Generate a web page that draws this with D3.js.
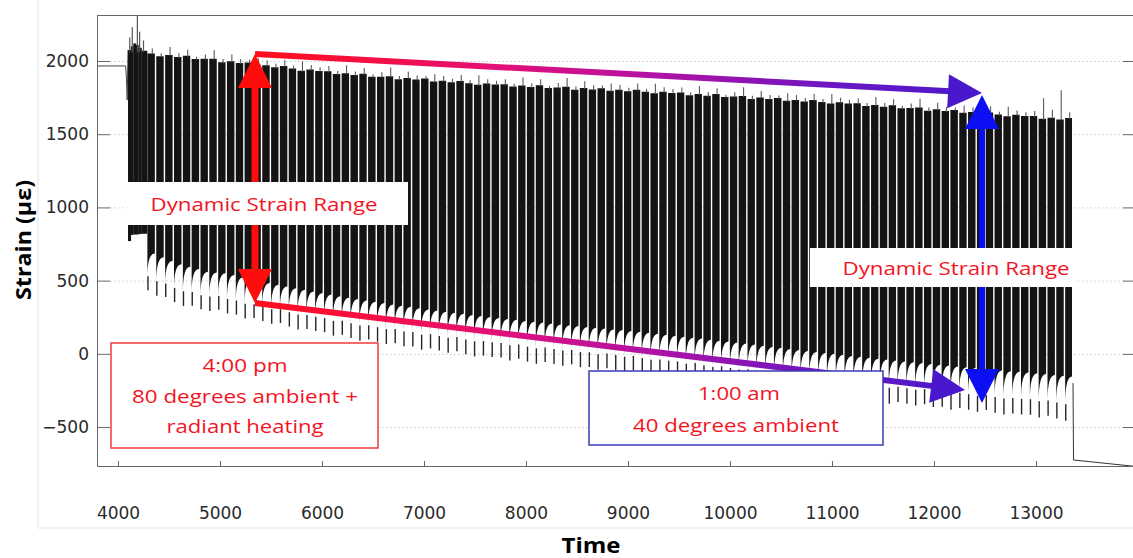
<!DOCTYPE html>
<html>
<head>
<meta charset="utf-8">
<title>Strain vs Time</title>
<script src="https://d3js.org/d3.v7.min.js"></script>
<style>
  body { margin: 0; background: #ffffff; }
  svg { display: block; }
</style>
</head>
<body>
<div id="mioGrafico"></div>
<script>

// tick labels
var xTicks = [4000, 5000, 6000, 7000, 8000, 9000, 10000, 11000, 12000, 13000];
var yTicks = [-500, 0, 500, 1000, 1500, 2000];

// flat signal before the loading starts, [time, strain]
var preLine = [[3794, 1966], [4075, 1966], [4082, 1890], [4090, 1733], [4098, 2075]];

// first partial block (segment start, top, bottom) and its tall peaks
var leadT  = [4098, 4125, 4150, 4175, 4200, 4230];
var leadHi = [2075, 2100, 2120, 2110, 2090, 2070];
var leadLo = [770, 812, 815, 815, 818, 820];
var leadPeaks = [[4115, 2160], [4140, 2230], [4190, 2314], [4212, 2200], [4250, 2140]];

// loading cycles: start time, top of the dense band, highest peak, band bottom, lowest dip
var cycleT = [4284, 4371, 4458, 4545, 4632, 4718, 4805, 4891, 4978, 5064,
  5151, 5237, 5324, 5410, 5497, 5583, 5670, 5756, 5843, 5929,
  6016, 6102, 6189, 6275, 6362, 6448, 6535, 6621, 6708, 6794,
  6881, 6967, 7054, 7140, 7227, 7313, 7400, 7486, 7573, 7659,
  7746, 7832, 7919, 8005, 8092, 8178, 8265, 8351, 8438, 8524,
  8611, 8697, 8784, 8870, 8957, 9043, 9130, 9216, 9303, 9389,
  9476, 9562, 9649, 9735, 9822, 9908, 9995, 10081, 10168, 10254,
  10341, 10427, 10514, 10600, 10687, 10773, 10860, 10946, 11033, 11119,
  11206, 11292, 11379, 11465, 11552, 11638, 11725, 11811, 11898, 11984,
  12071, 12157, 12244, 12330, 12417, 12503, 12590, 12676, 12763, 12849,
  12936, 13022, 13109, 13195, 13282];

var cycleHi = [2051, 2033, 2040, 2028, 2036, 2014, 2015, 2015, 1992, 1999,
  1986, 1990, 1969, 1971, 1958, 1965, 1948, 1934, 1942, 1931,
  1930, 1911, 1916, 1904, 1912, 1892, 1893, 1896, 1875, 1884,
  1873, 1880, 1860, 1865, 1854, 1863, 1848, 1837, 1846, 1839,
  1841, 1825, 1833, 1823, 1835, 1816, 1819, 1824, 1804, 1816,
  1806, 1814, 1797, 1803, 1794, 1804, 1790, 1779, 1790, 1782,
  1784, 1766, 1774, 1763, 1774, 1754, 1757, 1760, 1740, 1750,
  1740, 1747, 1729, 1734, 1724, 1734, 1720, 1709, 1719, 1710,
  1711, 1693, 1699, 1688, 1698, 1677, 1679, 1682, 1660, 1670,
  1659, 1665, 1646, 1651, 1639, 1649, 1634, 1622, 1632, 1624,
  1624, 1606, 1612, 1601, 1610];

var cyclePk = [2086, 2053, 2095, 2053, 2076, 2029, 2045, 2075, 2014, 2044,
  2014, 2008, 2019, 2004, 1982, 2007, 1968, 1999, 1972, 1957,
  1965, 1931, 1971, 1929, 1952, 1907, 1923, 1956, 1897, 1929,
  1901, 1898, 1910, 1898, 1878, 1905, 1868, 1902, 1876, 1865,
  1876, 1845, 1888, 1848, 1875, 1831, 1849, 1884, 1826, 1861,
  1834, 1832, 1847, 1836, 1818, 1846, 1810, 1844, 1820, 1808,
  1819, 1786, 1829, 1788, 1814, 1769, 1787, 1820, 1762, 1795,
  1768, 1765, 1779, 1767, 1748, 1776, 1740, 1774, 1749, 1736,
  1746, 1713, 1754, 1713, 1738, 1692, 1709, 1742, 1682, 1715,
  1687, 1683, 1696, 1684, 1663, 1691, 1654, 1687, 1662, 1650,
  1659, 1745, 1667, 1800, 1650];

var cycleBase = [685, 659, 634, 612, 595, 579, 561, 555, 550, 538,
  523, 510, 496, 483, 472, 460, 448, 437, 426, 415,
  405, 394, 383, 375, 365, 355, 347, 337, 328, 321,
  312, 303, 296, 288, 281, 274, 266, 258, 252, 245,
  238, 232, 225, 219, 214, 208, 201, 196, 190, 184,
  179, 173, 167, 162, 156, 150, 144, 137, 130, 124,
  117, 110, 104, 97, 90, 84, 77, 70, 63, 55,
  47, 41, 33, 26, 20, 13, 6, 0, -7, -14,
  -20, -26, -33, -39, -46, -52, -57, -63, -69, -74,
  -80, -86, -91, -97, -103, -108, -113, -119, -123, -128,
  -133, -138, -144, -150, -155];

var cycleLo = [435, 396, 388, 353, 327, 328, 304, 292, 301, 276,
  268, 241, 244, 225, 205, 211, 186, 167, 169, 156,
  148, 124, 131, 109, 90, 98, 83, 67, 73, 52,
  50, 28, 37, 23, 8, 18, -3, -18, -12, -21,
  -25, -45, -34, -53, -68, -56, -69, -81, -72, -91,
  -90, -109, -98, -110, -124, -112, -132, -146, -140, -149,
  -153, -173, -162, -182, -198, -187, -200, -213, -206, -227,
  -228, -248, -239, -252, -267, -256, -276, -290, -284, -293,
  -297, -316, -305, -325, -341, -329, -341, -353, -344, -363,
  -362, -381, -370, -382, -396, -384, -402, -415, -407, -414,
  -416, -435, -423, -442, -457];

var blockEnd = 13363;

// unloading at the end of the record
var tailLine = [[13363, -200], [13368, -725], [13961, -768]];

// annotations: arrows in data units, text boxes in pixels
var arrows = [
  {a: [5343, 2048], b: [12471, 1781], stroke: "url(#gradTop)", head: "#4a18cc", w: 6, both: false},
  {a: [5343, 347], b: [12304, -247], stroke: "url(#gradBot)", head: "#4a18cc", w: 6, both: false},
  {a: [5343, 2048], b: [5343, 347], stroke: "#ff0d0d", head: "#ff0d0d", w: 7, both: true},
  {a: [12471, 1768], b: [12471, -336], stroke: "#0b0ff2", head: "#0b0ff2", w: 6, both: true}
];
var gradStops = [[0, "#ff0d1d"], [0.15, "#f80f40"], [0.34, "#e2107a"], [0.54, "#b412a2"], [0.8, "#6a16c2"], [1, "#4a18cc"]];

var notes = [
  {x: 126, y: 182, w: 282, h: 43, border: "none",
   lines: [{t: "Dynamic Strain Range", cx: 264, by: 211, len: 227}]},
  {x: 810, y: 248, w: 265, h: 39, border: "none",
   lines: [{t: "Dynamic Strain Range", cx: 956, by: 275, len: 227}]},
  {x: 111, y: 343, w: 267, h: 105, border: "#f23a3a",
   lines: [{t: "4:00 pm", cx: 245, by: 372, len: 85},
           {t: "80 degrees ambient +", cx: 245, by: 403, len: 226},
           {t: "radiant heating", cx: 245, by: 433, len: 157}]},
  {x: 589, y: 371, w: 294, h: 74, border: "#3a3ab8",
   lines: [{t: "1:00 am", cx: 739, by: 400, len: 82},
           {t: "40 degrees ambient", cx: 736, by: 432, len: 206}]}
];

var plot = {left: 97, right: 1134, top: 15, bottom: 466};
var hookFrac = 0.35;
var textFont = "'Open Sans', 'Noto Sans', sans-serif";

var x = d3.scaleLinear().domain([3794, 13961]).range([plot.left, plot.right]);
var y = d3.scaleLinear().domain([-766, 2314]).range([plot.bottom, plot.top]);

var svg = d3.select("#mioGrafico")
  .append("svg")
  .attr("width", 1133)
  .attr("height", 558);

var defs = svg.append("defs");
defs.append("clipPath").attr("id", "plotClip")
  .append("rect")
  .attr("x", plot.left).attr("y", plot.top)
  .attr("width", plot.right - plot.left).attr("height", plot.bottom - plot.top);

// gradients for the two slanted arrows
[["gradTop", arrows[0]], ["gradBot", arrows[1]]].forEach(function(p) {
  var gr = defs.append("linearGradient").attr("id", p[0])
    .attr("gradientUnits", "userSpaceOnUse")
    .attr("x1", x(p[1].a[0])).attr("y1", y(p[1].a[1]))
    .attr("x2", x(p[1].b[0])).attr("y2", y(p[1].b[1]));
  gradStops.forEach(function(s) {
    gr.append("stop").attr("offset", s[0]).attr("stop-color", s[1]);
  });
});

// faint frame of the pasted figure
svg.append("line").attr("x1", 38).attr("x2", 38).attr("y1", 0).attr("y2", 528)
  .attr("stroke", "#e2e2e2").attr("stroke-width", 1);
svg.append("line").attr("x1", 38).attr("x2", 1133).attr("y1", 528).attr("y2", 528)
  .attr("stroke", "#e2e2e2").attr("stroke-width", 1);

// dotted grid
svg.append("g").selectAll("line")
  .data(yTicks)
  .enter().append("line")
  .attr("x1", plot.left + 13).attr("x2", plot.right - 11)
  .attr("y1", function(d) { return y(d) + 0.5; })
  .attr("y2", function(d) { return y(d) + 0.5; })
  .attr("stroke", "#c8c8c8")
  .attr("stroke-dasharray", "1.5,2.5");

var data = svg.append("g").attr("clip-path", "url(#plotClip)");

var line = d3.line()
  .x(function(d) { return x(d[0]); })
  .y(function(d) { return y(d[1]); });

data.append("path").attr("d", line(preLine))
  .attr("fill", "none").attr("stroke", "#444").attr("stroke-width", 1);

// lead-in block
var lead = leadT.map(function(t, i) {
  return {t0: t, t1: i < leadT.length - 1 ? leadT[i + 1] : cycleT[0], hi: leadHi[i], lo: leadLo[i]};
});
data.append("g").selectAll("rect")
  .data(lead)
  .enter().append("rect")
  .attr("x", function(d) { return x(d.t0); })
  .attr("width", function(d) { return x(d.t1) - x(d.t0) + 0.3; })
  .attr("y", function(d) { return y(d.hi); })
  .attr("height", function(d) { return y(d.lo) - y(d.hi); })
  .attr("fill", "#141414");

data.append("g").selectAll("line")
  .data(leadPeaks)
  .enter().append("line")
  .attr("x1", function(d) { return x(d[0]); })
  .attr("x2", function(d) { return x(d[0]); })
  .attr("y1", y(2060))
  .attr("y2", function(d) { return y(d[1]); })
  .attr("stroke", "#555").attr("stroke-width", 1.2);

// loading cycles
var cycles = cycleT.map(function(t, i) {
  return {t0: t, t1: i < cycleT.length - 1 ? cycleT[i + 1] : blockEnd,
          hi: cycleHi[i], pk: cyclePk[i], base: cycleBase[i], lo: cycleLo[i]};
});

function hookY(d) { return y(d.lo + hookFrac * (d.base - d.lo)); }

function column(d) {
  var xl = x(d.t0) + 0.4, xr = x(d.t1) - 1.0;
  var p = d3.path();
  p.moveTo(xl, y(d.hi));
  p.lineTo(xr, y(d.hi));
  p.lineTo(xr, y(d.base));
  p.quadraticCurveTo(xl, y(d.base), xl, hookY(d));
  p.closePath();
  return p.toString();
}

var cyc = data.append("g").selectAll("g")
  .data(cycles)
  .enter().append("g");

cyc.append("path")
  .attr("d", column)
  .attr("fill", "#141414");

// dips at the start of each cycle
cyc.append("line")
  .attr("x1", function(d) { return x(d.t0) + 1.0; })
  .attr("x2", function(d) { return x(d.t0) + 1.0; })
  .attr("y1", function(d) { return hookY(d) - 1; })
  .attr("y2", function(d) { return y(d.lo); })
  .attr("stroke", "#262626").attr("stroke-width", 1.4);

// grey peaks sticking out of the band
cyc.append("line")
  .attr("x1", function(d) { return x(d.t0) + 0.6 * (x(d.t1) - x(d.t0)); })
  .attr("x2", function(d) { return x(d.t0) + 0.6 * (x(d.t1) - x(d.t0)); })
  .attr("y1", function(d) { return y(d.hi) + 1; })
  .attr("y2", function(d) { return y(d.pk); })
  .attr("stroke", "#5a5a5a").attr("stroke-width", 1.1);

data.append("path").attr("d", line(tailLine))
  .attr("fill", "none").attr("stroke", "#333").attr("stroke-width", 1);

// axes
function styleAxis(g) {
  g.attr("font-family", "'DejaVu Sans', sans-serif").attr("font-size", 17);
  g.selectAll(".tick line").attr("stroke", "#666");
  g.selectAll(".tick text").attr("fill", "#2a2a2a");
  g.select(".domain").attr("stroke", "#666");
}

svg.append("g")
  .attr("transform", "translate(0," + plot.bottom + ")")
  .call(d3.axisBottom(x).tickValues(xTicks).tickSize(-5).tickSizeOuter(0).tickPadding(41).tickFormat(d3.format("d")))
  .call(styleAxis);

svg.append("g")
  .attr("transform", "translate(" + plot.left + ",0)")
  .call(d3.axisLeft(y).tickValues(yTicks).tickSize(-13).tickSizeOuter(0).tickPadding(8).tickFormat(d3.format("d")))
  .call(styleAxis);

svg.append("g")
  .attr("transform", "translate(" + plot.right + ",0)")
  .call(d3.axisRight(y).tickValues(yTicks).tickSize(-11).tickSizeOuter(0).tickFormat(""))
  .call(styleAxis)
  .select(".domain").remove();

svg.append("line")
  .attr("x1", plot.left).attr("x2", plot.right)
  .attr("y1", plot.top + 0.5).attr("y2", plot.top + 0.5)
  .attr("stroke", "#666");

// arrows
var ann = svg.append("g");
var hl = 34, hw = 17;

function arrowHead(tx, ty, ux, uy, color) {
  var bx = tx - ux * hl, by = ty - uy * hl;
  ann.append("polygon")
    .attr("points", [[tx, ty], [bx - uy * hw, by + ux * hw], [bx + uy * hw, by - ux * hw]].join(" "))
    .attr("fill", color);
}

arrows.forEach(function(d) {
  var x1 = x(d.a[0]), y1 = y(d.a[1]), x2 = x(d.b[0]), y2 = y(d.b[1]);
  var len = Math.sqrt((x2 - x1) * (x2 - x1) + (y2 - y1) * (y2 - y1));
  var ux = (x2 - x1) / len, uy = (y2 - y1) / len;
  var sx = d.both ? x1 + ux * (hl - 2) : x1, sy = d.both ? y1 + uy * (hl - 2) : y1;
  ann.append("line")
    .attr("x1", sx).attr("y1", sy)
    .attr("x2", x2 - ux * (hl - 2)).attr("y2", y2 - uy * (hl - 2))
    .attr("stroke", d.stroke).attr("stroke-width", d.w);
  arrowHead(x2, y2, ux, uy, d.head);
  if (d.both) arrowHead(x1, y1, -ux, -uy, d.head);
});

// text boxes
notes.forEach(function(n) {
  ann.append("rect")
    .attr("x", n.x).attr("y", n.y).attr("width", n.w).attr("height", n.h)
    .attr("fill", "#ffffff")
    .attr("stroke", n.border).attr("stroke-width", 1.5);
  n.lines.forEach(function(l) {
    ann.append("text")
      .attr("x", l.cx).attr("y", l.by)
      .attr("text-anchor", "middle")
      .attr("font-family", textFont).attr("font-size", 19)
      .attr("fill", "#f5131f")
      .attr("textLength", l.len).attr("lengthAdjust", "spacingAndGlyphs")
      .text(l.t);
  });
});

// axis titles
svg.append("text")
  .attr("x", 591).attr("y", 553)
  .attr("text-anchor", "middle")
  .attr("font-family", textFont).attr("font-weight", "bold").attr("font-size", 21)
  .attr("textLength", 59).attr("lengthAdjust", "spacingAndGlyphs")
  .text("Time");

svg.append("text")
  .attr("transform", "translate(31,240) rotate(-90)")
  .attr("text-anchor", "middle")
  .attr("font-family", textFont).attr("font-weight", "bold").attr("font-size", 21)
  .attr("textLength", 120).attr("lengthAdjust", "spacingAndGlyphs")
  .text("Strain (\u00b5\u03b5)");

</script>
</body>
</html>
